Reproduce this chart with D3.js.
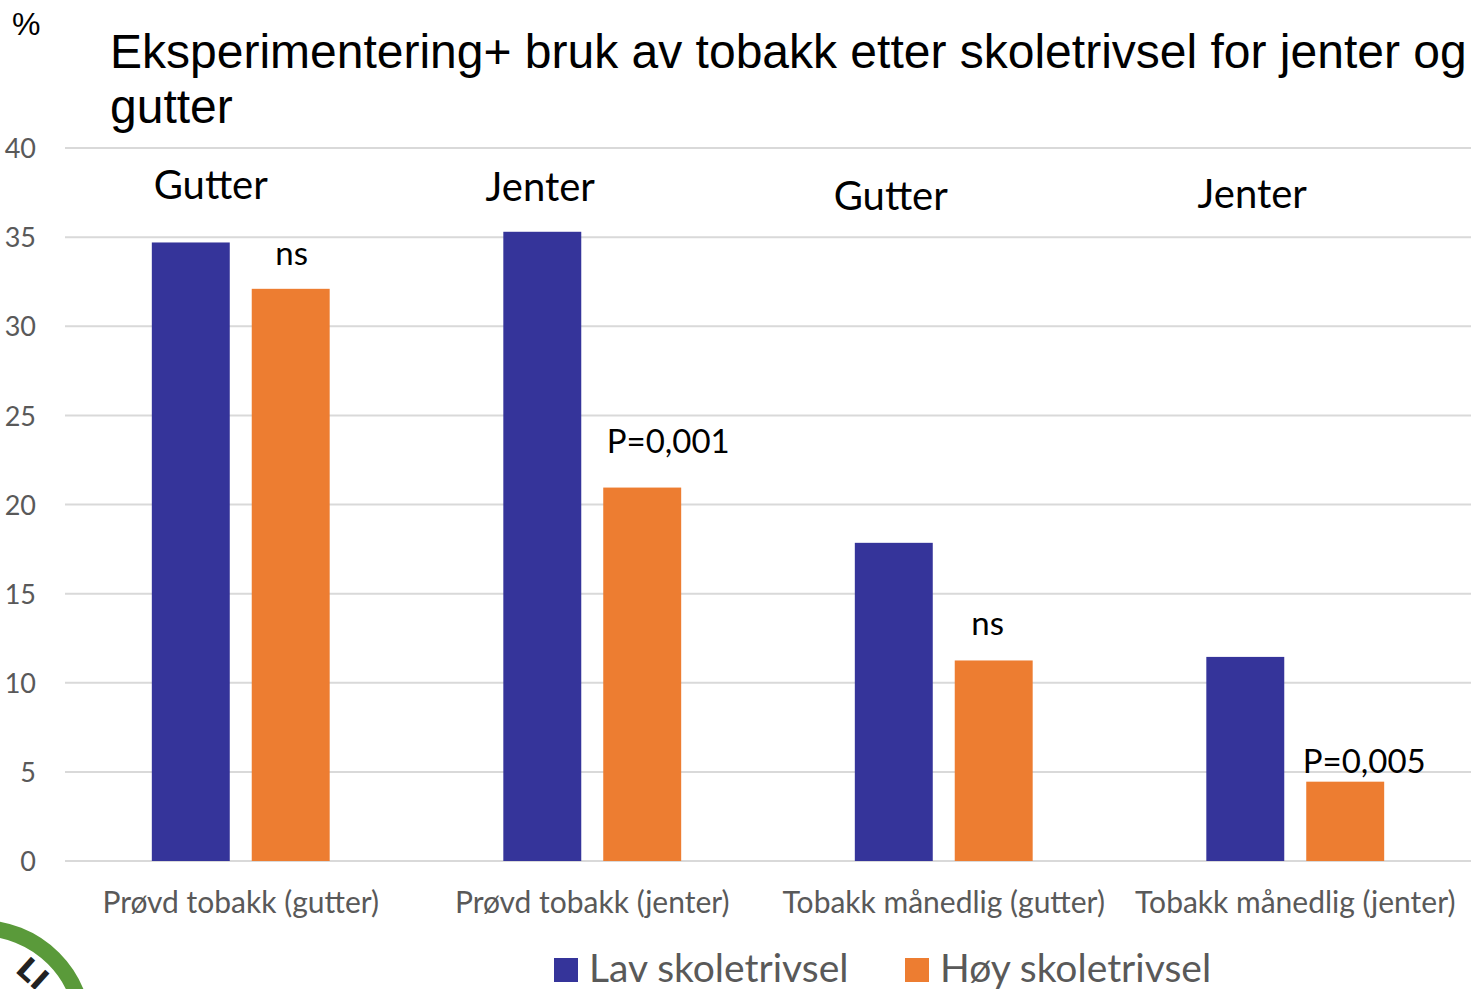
<!DOCTYPE html>
<html>
<head>
<meta charset="utf-8">
<script src="https://cdn.jsdelivr.net/npm/d3@7"></script>
<style>
  body { margin: 0; background: #fff; }
  svg { display: block; }
</style>
</head>
<body>
<script>
const categories = ['Prøvd tobakk (gutter)', 'Prøvd tobakk (jenter)', 'Tobakk månedlig (gutter)', 'Tobakk månedlig (jenter)']
const seriesNames = ['Lav skoletrivsel', 'Høy skoletrivsel']
const lavValues = [34.7, 35.3, 17.85, 11.45]
const hoyValues = [32.1, 20.95, 11.25, 4.45]
const groupLabels = ['Gutter', 'Jenter', 'Gutter', 'Jenter']
const pLabels = ['ns', 'P=0,001', 'ns', 'P=0,005']
const yTicks = [0, 5, 10, 15, 20, 25, 30, 35, 40]
const colors = ['#35349a', '#ed7d31']

const width = 1471
const height = 989
const margin = { left: 65, right: 0, top: 148, bottom: 128 }
const bodyFont = 'Lato, "Open Sans", sans-serif'

const svg = d3.select('body').append('svg')
  .attr('width', width)
  .attr('height', height)

const yScale = d3.scaleLinear()
  .domain([0, 40])
  .range([861, 148])

const x0 = d3.scaleBand()
  .domain(categories)
  .range([margin.left, width])
  .paddingInner(0.494)
  .paddingOuter(0.247)

const x1 = d3.scaleBand()
  .domain(seriesNames)
  .range([0, x0.bandwidth()])
  .paddingInner(0.22)

// grid
svg.append('g')
  .selectAll('line')
  .data(yTicks)
  .enter()
  .append('line')
  .attr('x1', margin.left)
  .attr('x2', width)
  .attr('y1', d => yScale(d))
  .attr('y2', d => yScale(d))
  .attr('stroke', '#d9d9d9')
  .attr('stroke-width', 2)

// y axis labels
const yAxis = d3.axisLeft(yScale).tickValues(yTicks).tickSize(0).tickPadding(0)
const yg = svg.append('g')
  .attr('transform', 'translate(36, 1)')
  .call(yAxis)
yg.select('.domain').remove()
yg.selectAll('text')
  .attr('font-family', bodyFont)
  .attr('font-size', 27)
  .attr('fill', '#595959')

// bars
const rows = categories.map((c, i) => ({ cat: c, vals: [lavValues[i], hoyValues[i]] }))
const groups = svg.append('g')
  .selectAll('g')
  .data(rows)
  .enter()
  .append('g')
  .attr('transform', d => `translate(${x0(d.cat)}, 0)`)

groups.selectAll('rect')
  .data(d => d.vals.map((v, j) => ({ name: seriesNames[j], v: v, j: j })))
  .enter()
  .append('rect')
  .attr('x', d => x1(d.name))
  .attr('width', x1.bandwidth())
  .attr('y', d => yScale(d.v))
  .attr('height', d => yScale(0) - yScale(d.v))
  .attr('fill', d => colors[d.j])

// x axis labels
const xAxis = d3.axisBottom(x0).tickSize(0).tickPadding(0)
const xg = svg.append('g')
  .attr('transform', 'translate(0, 892)')
  .call(xAxis)
xg.select('.domain').remove()
xg.selectAll('text')
  .attr('font-family', bodyFont)
  .attr('font-size', 30)
  .attr('fill', '#595959')

// group annotations (Gutter / Jenter)
const groupLabelY = [37.14, 37.03, 36.52, 36.63]
const groupLabelDx = [-30, -52, -53, -43]
svg.append('g')
  .selectAll('text')
  .data(groupLabels)
  .enter()
  .append('text')
  .text(d => d)
  .attr('x', (d, i) => x0(categories[i]) + x0.bandwidth() / 2 + groupLabelDx[i])
  .attr('y', (d, i) => yScale(groupLabelY[i]))
  .attr('text-anchor', 'middle')
  .attr('font-family', bodyFont)
  .attr('font-size', 40)
  .attr('fill', '#000')

// significance annotations
const pDx = [1, 26, -6, 19]
const pDy = [24, 35, 25, 9]
svg.append('g')
  .selectAll('text')
  .data(pLabels)
  .enter()
  .append('text')
  .text(d => d)
  .attr('x', (d, i) => x0(categories[i]) + x1(seriesNames[1]) + x1.bandwidth() / 2 + pDx[i])
  .attr('y', (d, i) => yScale(hoyValues[i]) - pDy[i])
  .attr('text-anchor', 'middle')
  .attr('font-family', bodyFont)
  .attr('font-size', 33)
  .attr('fill', '#000')

// title
svg.append('text')
  .attr('font-family', '"Liberation Sans", Arial, sans-serif')
  .attr('font-size', 48)
  .attr('fill', '#000')
  .selectAll('tspan')
  .data(['Eksperimentering+ bruk av tobakk etter skoletrivsel for jenter og', 'gutter'])
  .enter()
  .append('tspan')
  .attr('x', 110)
  .attr('y', (d, i) => 68 + i * 55)
  .text(d => d)

svg.append('text')
  .text('%')
  .attr('x', 12)
  .attr('y', 35)
  .attr('font-family', '"Liberation Sans", Arial, sans-serif')
  .attr('font-size', 32)
  .attr('fill', '#000')

// legend
const legend = svg.append('g')
  .selectAll('g')
  .data(seriesNames)
  .enter()
  .append('g')
  .attr('transform', (d, i) => `translate(${[554, 905][i]}, 958)`)
legend.append('rect')
  .attr('width', 24)
  .attr('height', 24)
  .attr('fill', (d, i) => colors[i])
legend.append('text')
  .text(d => d)
  .attr('x', 35)
  .attr('y', 24)
  .attr('font-family', bodyFont)
  .attr('font-size', 39)
  .attr('fill', '#595959')

// partial logo in the corner
const logo = svg.append('g').attr('transform', 'translate(-20, 1032)')
logo.append('circle')
  .attr('r', 104)
  .attr('fill', 'none')
  .attr('stroke', '#5a9a3a')
  .attr('stroke-width', 16)
logo.append('text')
  .text('LI')
  .attr('transform', 'rotate(42) translate(0, -68)')
  .attr('text-anchor', 'middle')
  .attr('font-family', '"DejaVu Sans", sans-serif')
  .attr('font-weight', 'bold')
  .attr('font-size', 30)
  .attr('fill', '#222')
</script>
</body>
</html>
